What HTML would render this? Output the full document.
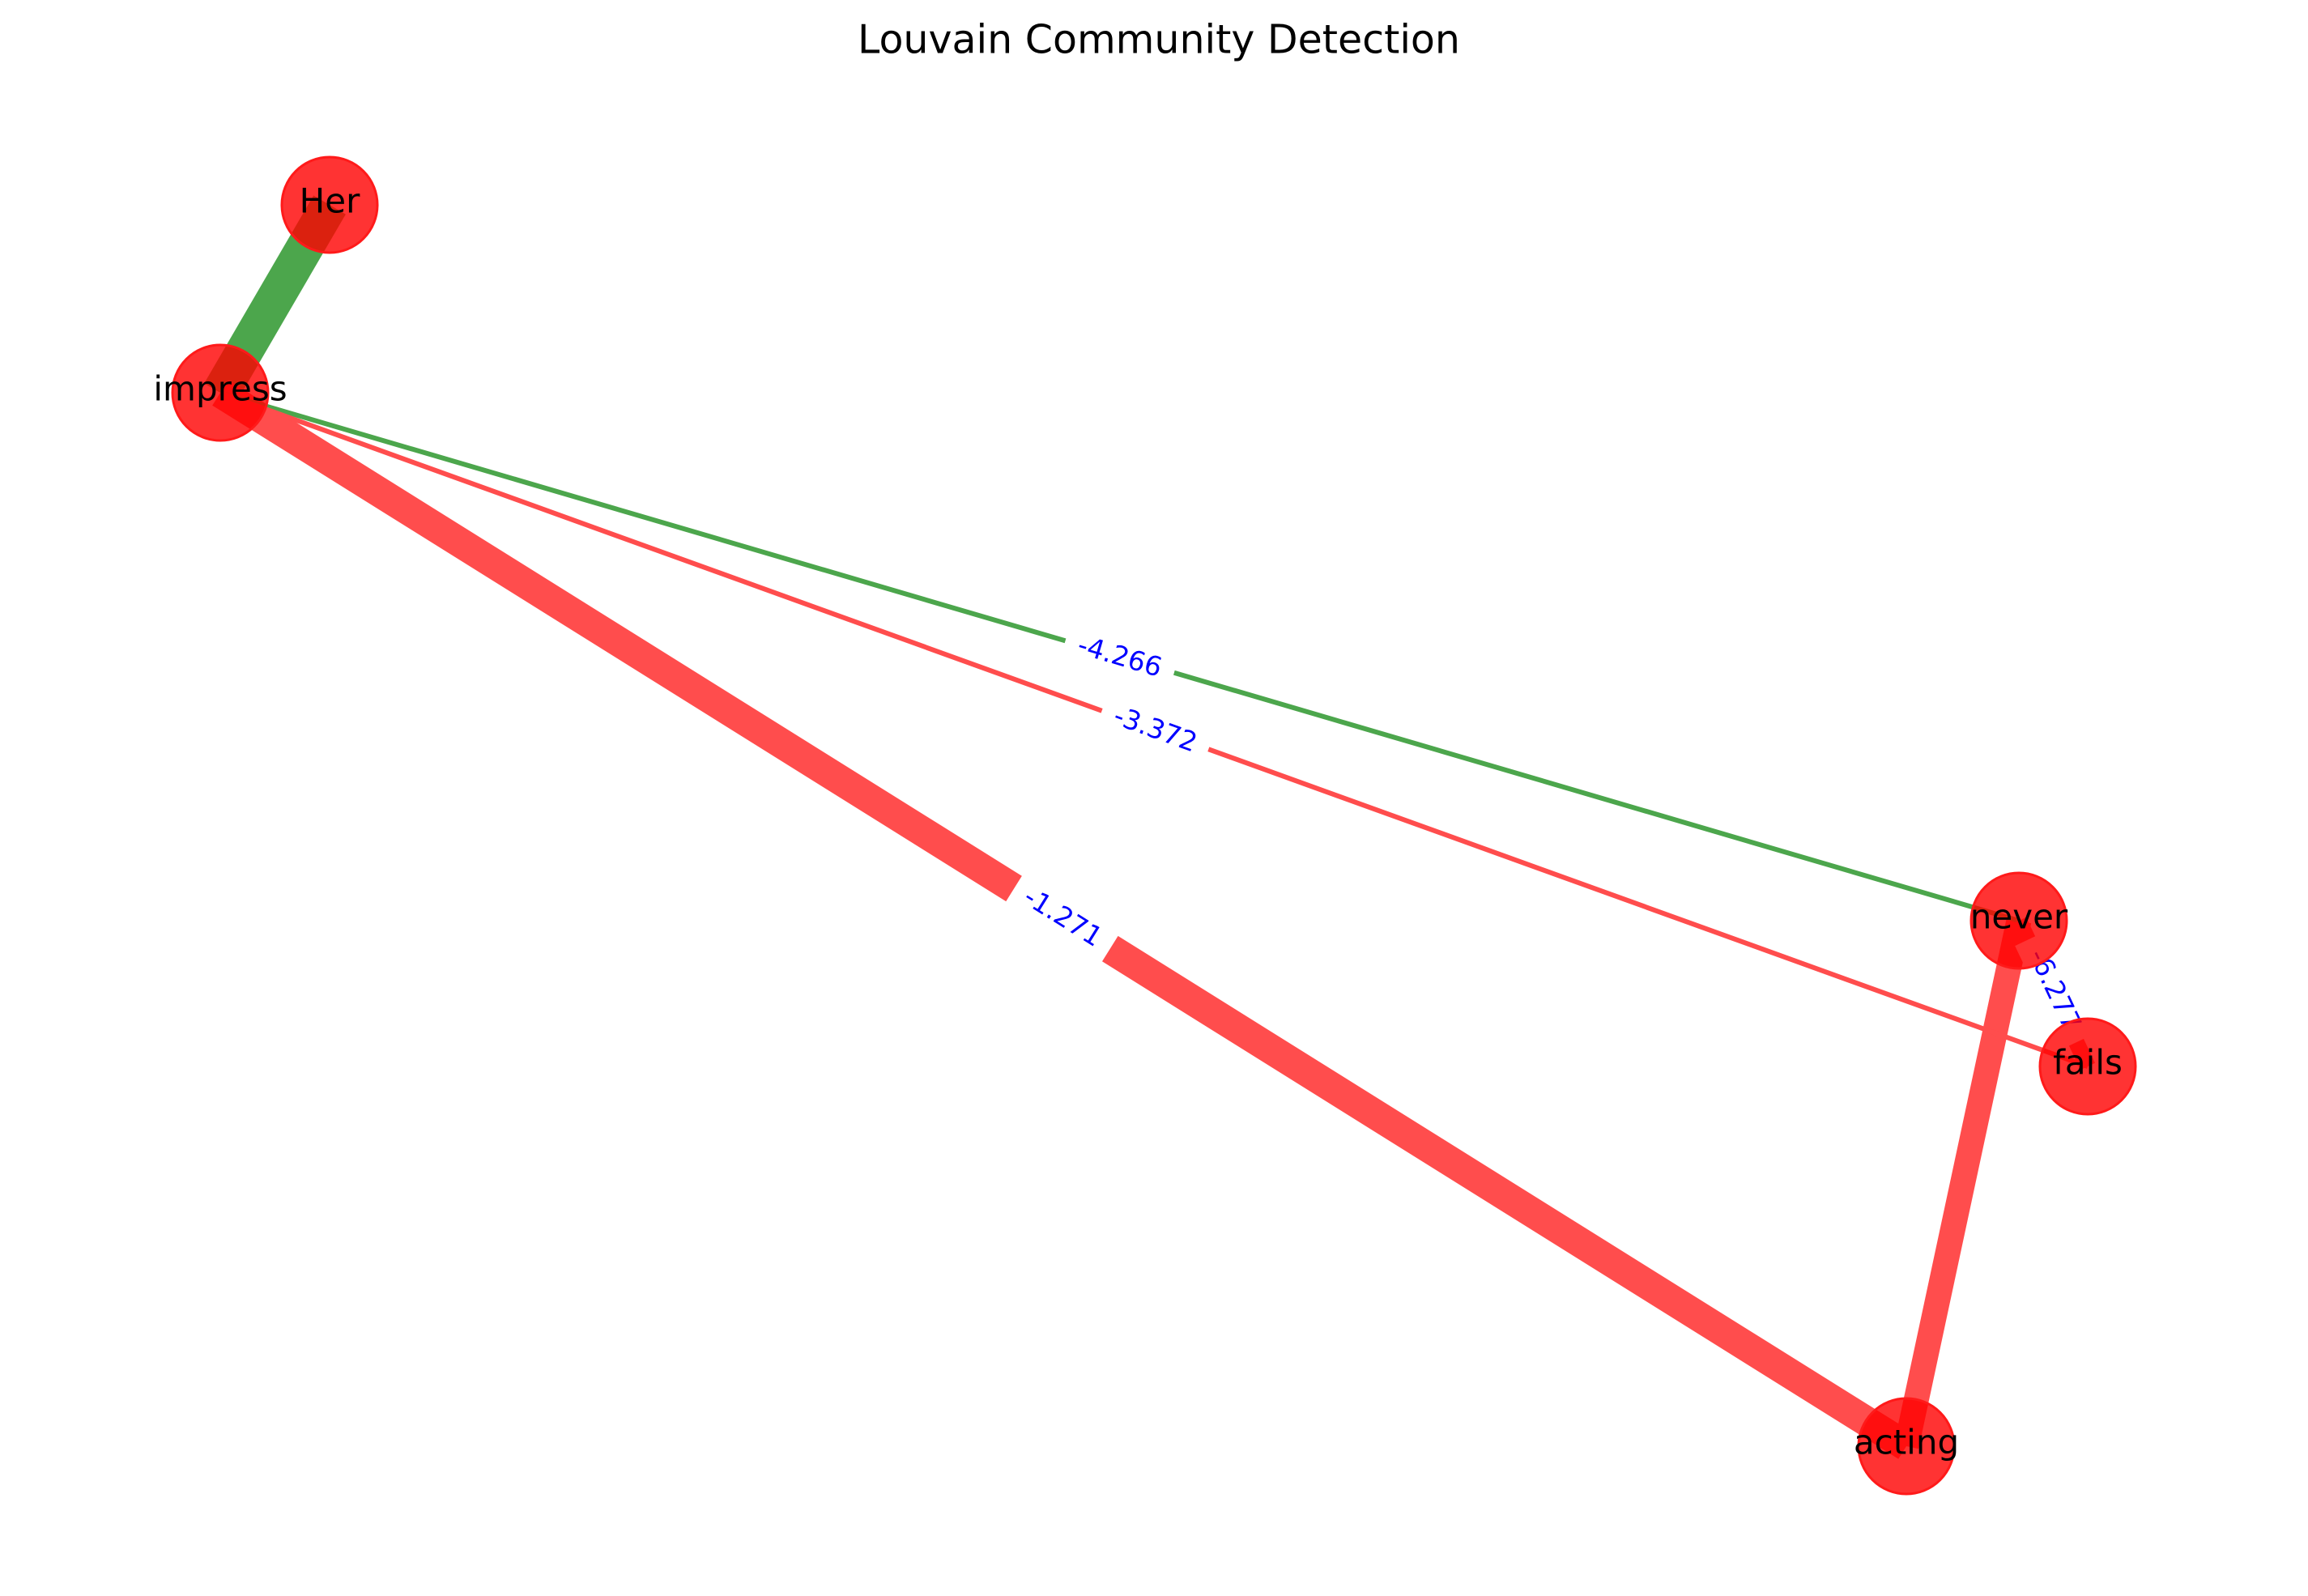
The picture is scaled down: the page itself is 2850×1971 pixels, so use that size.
<!DOCTYPE html>
<html><head><meta charset="utf-8"><style>
html,body{margin:0;padding:0;background:#fff;}
svg{display:block;}
text{font-family:"DejaVu Sans","Liberation Sans",sans-serif;}
</style></head><body>
<svg width="2850" height="1971" viewBox="0 0 2850 1971" xmlns="http://www.w3.org/2000/svg">
<rect width="2850" height="1971" fill="#fff"/>
<text x="1431" y="49" font-size="49" text-anchor="middle" dominant-baseline="central" fill="#000">Louvain Community Detection</text>
<g stroke-linecap="butt">
<line x1="407" y1="253" x2="272" y2="485" stroke="#4ca64c" stroke-width="46"/>
<line x1="272" y1="485" x2="2354" y2="1786" stroke="#ff4d4d" stroke-width="37"/>
<line x1="2493" y1="1137" x2="2354" y2="1786" stroke="#ff4d4d" stroke-width="31"/>
<line x1="272" y1="485" x2="2493" y2="1137" stroke="#4ca64c" stroke-width="6"/>
<line x1="272" y1="485" x2="2578" y2="1317" stroke="#ff4d4d" stroke-width="6"/>
<line x1="2493" y1="1137" x2="2578" y2="1317" stroke="#ff4d4d" stroke-width="20"/>
</g>
<g font-size="33" fill="#00f" text-anchor="middle">
<g transform="translate(1383,810) rotate(16.4)"><rect x="-70" y="-22" width="140" height="44" fill="#fff"/><text y="0" dominant-baseline="central">-4.266</text></g>
<g transform="translate(1427,900) rotate(19.8)"><rect x="-70" y="-22" width="140" height="44" fill="#fff"/><text y="0" dominant-baseline="central">-3.372</text></g>
<g transform="translate(1313,1132) rotate(32)"><rect x="-70" y="-22" width="140" height="44" fill="#fff"/><text y="0" dominant-baseline="central">-1.271</text></g>
<g transform="translate(2538,1222) rotate(64.7)"><rect x="-70" y="-22" width="140" height="44" fill="#fff"/><text y="0" dominant-baseline="central">-6.277</text></g>
</g>
<g fill="rgba(255,0,0,0.8)" stroke="#ff1a1a" stroke-width="3">
<circle cx="407" cy="253" r="59"/>
<circle cx="272" cy="485" r="59"/>
<circle cx="2493" cy="1137" r="59"/>
<circle cx="2578" cy="1317" r="59"/>
<circle cx="2354" cy="1786" r="59"/>
</g>
<g font-size="42" fill="#000" text-anchor="middle" dominant-baseline="central">
<text x="407" y="248">Her</text>
<text x="272" y="480">impress</text>
<text x="2493" y="1132">never</text>
<text x="2578" y="1312">fails</text>
<text x="2354" y="1781">acting</text>
</g>
</svg>
</body></html>
